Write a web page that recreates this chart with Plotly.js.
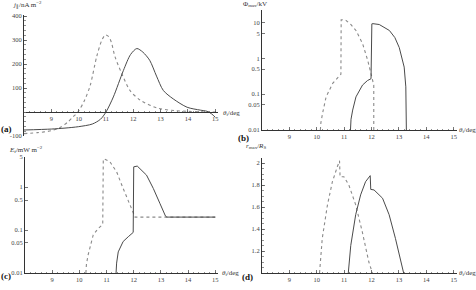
<!DOCTYPE html>
<html>
<head>
<meta charset="utf-8">
<script src="https://cdn.plot.ly/plotly-3.0.1.min.js"></script>
<style>html,body{margin:0;padding:0;background:#fff;}#chart{width:476px;height:290px;}</style>
</head>
<body>
<div id="chart"></div>
<script>
// ---------- data ----------
const xTicks = [9, 10, 11, 12, 13, 14, 15];
const xTickText = ["9", "10", "11", "12", "13", "14", "15"];

// (a) field-aligned current density j_par (nA m^-2)
const thetaA1 = [8, 8.5, 9, 9.3, 9.6, 9.8, 9.97, 10.2, 10.42, 10.66, 10.85, 10.98, 11.1, 11.2, 11.33, 11.58, 11.88, 12.25, 12.86, 13.5, 14, 14.5, 15];
const jA1 = [-90, -86, -78, -66, -42, -20, 0, 45, 110, 231, 300, 322, 315, 290, 231, 160, 90, 50, 17, 6, 3, 1, 0];
const thetaA2 = [8, 9, 9.5, 10, 10.5, 10.8, 11.0, 11.27, 11.64, 11.9, 12.13, 12.35, 12.6, 12.85, 13.1, 13.46, 13.97, 14.45, 14.7, 14.87, 15];
const jA2 = [-75, -71, -67, -61, -50, -30, 0, 63, 174, 240, 265, 250, 216, 150, 90, 55, 20, 8, 3, -8, -22];
const yTicksA = [-100, 100, 200, 300, 400];
const yTickTextA = ["-100", "100", "200", "300", "400"];

// (b) potential Phi_max (kV)
const thetaB1 = [10.13, 10.15, 10.21, 10.34, 10.58, 10.75, 10.88, 10.89, 10.95, 11.07, 11.25, 11.43, 11.67, 11.86, 11.98, 12.04, 12.08, 12.08];
const phiB1 = [0.01, 0.016, 0.029, 0.084, 0.2, 0.29, 0.36, 11.9, 12, 11.4, 8.7, 6, 2.6, 0.88, 0.34, 0.22, 0.18, 0.01];
const thetaB2 = [11.23, 11.25, 11.31, 11.43, 11.67, 11.85, 11.98, 12.01, 12.05, 12.28, 12.65, 12.85, 13.01, 13.19, 13.25, 13.27];
const phiB2 = [0.01, 0.02, 0.036, 0.084, 0.18, 0.24, 0.27, 9.2, 9.3, 8.8, 6, 3.8, 2.0, 0.57, 0.16, 0.01];
const yTicksB = [0.01, 0.05, 0.1, 0.5, 1, 5, 10];
const yTickTextB = ["0.01", "0.05", "0.1", "0.5", "1", "5", "10"];

// (c) energy flux E_f (mW m^-2)
const thetaC1 = [10.24, 10.26, 10.32, 10.51, 10.7, 10.86, 10.88, 10.92, 11.12, 11.37, 11.61, 11.8, 11.98, 12.05, 15];
const efC1 = [0.01, 0.016, 0.026, 0.077, 0.11, 0.135, 4.47, 4.5, 3.9, 2.27, 0.93, 0.46, 0.24, 0.2, 0.2];
const thetaC2 = [11.35, 11.37, 11.43, 11.61, 11.8, 11.98, 12.0, 12.13, 12.47, 12.72, 12.96, 13.17, 13.22, 15];
const efC2 = [0.01, 0.017, 0.031, 0.054, 0.07, 0.088, 2.96, 3.08, 1.9, 0.93, 0.42, 0.21, 0.2, 0.2];
const yTicksC = [0.01, 0.05, 0.1, 0.5, 1, 5];
const yTickTextC = ["0.01", "0.05", "0.1", "0.5", "1", "5"];

// (d) r_max / R_S
const thetaD1 = [10.1, 10.13, 10.2, 10.39, 10.57, 10.75, 10.83, 10.85, 10.99, 11.17, 11.42, 11.66, 11.9, 12.03];
const rD1 = [1.0, 1.12, 1.315, 1.62, 1.83, 1.966, 2.02, 1.875, 1.875, 1.8, 1.62, 1.375, 1.1, 1.0];
const thetaD2 = [11.15, 11.24, 11.42, 11.6, 11.78, 11.95, 11.97, 12.09, 12.4, 12.64, 12.87, 13.05, 13.17];
const rD2 = [1.0, 1.25, 1.53, 1.71, 1.83, 1.885, 1.76, 1.755, 1.68, 1.53, 1.315, 1.13, 1.0];
const yTicksD = [1.2, 1.4, 1.6, 1.8, 2];
const yTickTextD = ["1.2", "1.4", "1.6", "1.8", "2"];

// ---------- styling ----------
const W = 476, H = 290;
const FONT = "Liberation Serif, Times New Roman, serif";
const tickFont = {family: FONT, size: 6.5, color: "#444"};
const dashLine = {color: "#8a8a8a", width: 1.1, dash: "dot"};
const solidLine = {color: "#4a4a4a", width: 1};

function px(a, b) { return [a / W, b / W]; }
function py(top, bottom) { return [(H - bottom) / H, (H - top) / H]; }

function xAxis(domain, anchor) {
  return {
    domain: domain, range: [8, 15.1], anchor: anchor,
    showline: true, linecolor: "#333", linewidth: 1,
    showgrid: false, zeroline: false,
    tickmode: "array", tickvals: xTicks, ticktext: xTickText,
    ticks: "inside", ticklen: 3, tickcolor: "#555", tickwidth: 0.8,
    minor: {ticks: "inside", ticklen: 1.5, dtick: 0.2, tick0: 8, tickcolor: "#777", showgrid: false},
    tickfont: tickFont, fixedrange: true
  };
}
function yAxis(domain, anchor, extra) {
  return Object.assign({
    domain: domain, anchor: anchor,
    showline: true, linecolor: "#333", linewidth: 1,
    showgrid: false, zeroline: false,
    ticks: "inside", ticklen: 3, tickcolor: "#555", tickwidth: 0.8,
    tickfont: tickFont, fixedrange: true, tickmode: "array"
  }, extra);
}

const rangeA = [-100, 405];
const domYA = py(15, 136);
const xPosA = domYA[0] + (0 - rangeA[0]) / (rangeA[1] - rangeA[0]) * (domYA[1] - domYA[0]);

const traces = [
  {x: thetaA1, y: jA1, xaxis: "x", yaxis: "y", mode: "lines", line: Object.assign({shape: "spline", smoothing: 0.8}, dashLine)},
  {x: thetaA2, y: jA2, xaxis: "x", yaxis: "y", mode: "lines", line: Object.assign({shape: "spline", smoothing: 0.8}, solidLine)},
  {x: thetaB1, y: phiB1, xaxis: "x2", yaxis: "y2", mode: "lines", line: dashLine},
  {x: thetaB2, y: phiB2, xaxis: "x2", yaxis: "y2", mode: "lines", line: solidLine},
  {x: thetaC1, y: efC1, xaxis: "x3", yaxis: "y3", mode: "lines", line: dashLine},
  {x: thetaC2, y: efC2, xaxis: "x3", yaxis: "y3", mode: "lines", line: solidLine},
  {x: thetaD1, y: rD1, xaxis: "x4", yaxis: "y4", mode: "lines", line: dashLine},
  {x: thetaD2, y: rD2, xaxis: "x4", yaxis: "y4", mode: "lines", line: solidLine}
];

const xa = xAxis(px(24, 218), "free"); xa.position = xPosA;
const annFont = {family: FONT, size: 7, color: "#333"};
function ann(text, x, y, xanchor, extraFont) {
  return {text: text, x: x / W, y: 1 - y / H, xref: "paper", yref: "paper",
          xanchor: xanchor || "left", yanchor: "middle", showarrow: false,
          font: Object.assign({}, annFont, extraFont || {})};
}
const thetaTitle = "<i>θ</i><sub>i</sub>/deg";
const panelFont = {size: 9, color: "#111", weight: "bold"};

const layout = {
  width: W, height: H, margin: {l: 0, r: 0, t: 0, b: 0},
  paper_bgcolor: "#fff", plot_bgcolor: "rgba(0,0,0,0)", showlegend: false,
  xaxis: xa,
  yaxis: yAxis(domYA, "x", {range: rangeA, tickvals: yTicksA, ticktext: yTickTextA,
                            minor: {ticks: "inside", ticklen: 1.5, dtick: 20, tickcolor: "#777", showgrid: false}}),
  xaxis2: xAxis(px(262, 456.5), "y2"),
  yaxis2: yAxis(py(10, 130), "x2", {type: "log", range: [-2, 1.35], tickvals: yTicksB, ticktext: yTickTextB}),
  xaxis3: xAxis(px(25, 218), "y3"),
  yaxis3: yAxis(py(157, 273), "x3", {type: "log", range: [-2, 0.7], tickvals: yTicksC, ticktext: yTickTextC}),
  xaxis4: xAxis(px(262, 456.5), "y4"),
  yaxis4: yAxis(py(157.5, 273), "x4", {range: [1, 2.05], tickvals: yTicksD, ticktext: yTickTextD,
                                        minor: {ticks: "inside", ticklen: 1.5, dtick: 0.05, tickcolor: "#777", showgrid: false}}),
  annotations: [
    ann("<i>j</i><sub>∥</sub>/nA m<sup>−2</sup>", 11, 5),
    ann(thetaTitle, 221, 113),
    ann("<b>(a)</b>", -1, 129, "left", panelFont),
    ann("Φ<sub>max</sub>/kV", 241, 4),
    ann(thetaTitle, 457, 130),
    ann("<b>(b)</b>", 236, 138, "left", panelFont),
    ann("<i>E</i><sub>f</sub>/mW m<sup>−2</sup>", 7, 149),
    ann(thetaTitle, 220, 273),
    ann("<b>(c)</b>", -1, 276, "left", panelFont),
    ann("<i>r</i><sub>max</sub>/<i>R</i><sub>S</sub>", 244, 146),
    ann(thetaTitle, 457, 273),
    ann("<b>(d)</b>", 240, 277, "left", panelFont)
  ]
};

Plotly.newPlot("chart", traces, layout, {staticPlot: true, displayModeBar: false});
</script>
</body>
</html>
